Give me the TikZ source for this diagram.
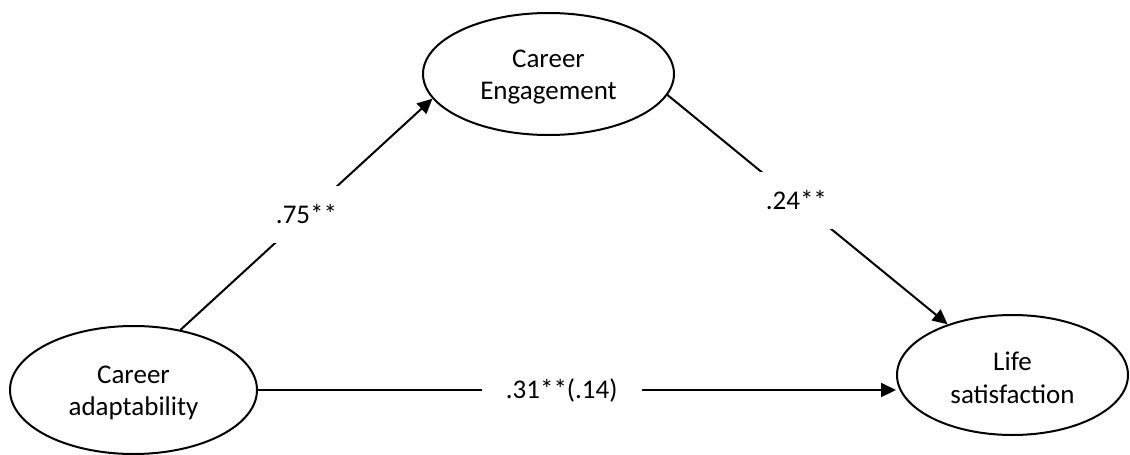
\documentclass[tikz,border=0pt]{standalone}
\usepackage{fontspec}
\setmainfont{Carlito}
\usetikzlibrary{arrows.meta,shapes.geometric}
\begin{document}
\begin{tikzpicture}[x=1pt,y=-1pt,
  txt/.style={align=center,inner sep=0pt,yshift=-3pt,font=\fontsize{27}{32.5}\selectfont},
  latent/.style={ellipse,draw,line width=2pt,inner sep=0pt},
  pathline/.style={line width=2pt,-{Triangle[length=15pt,width=14pt]}},
  coef/.style={fill=white,inner xsep=24pt,inner ysep=19pt,font=\fontsize{27}{32.5}\selectfont}]
\useasboundingbox (0,0) rectangle (1130,455);
\node[latent,minimum width=251pt,minimum height=122pt,
  label={[txt]center:Career\\Engagement}] (ce) at (548.5,74) {};
\node[latent,minimum width=247pt,minimum height=128pt,
  label={[txt]center:Career\\adaptability}] (ca) at (133.5,390) {};
\node[latent,minimum width=231pt,minimum height=120pt,
  label={[txt]center:Life\\satisfaction}] (ls) at (1012.5,375) {};
\draw[pathline] (ca.52) -- node[coef,pos=0.5]{.75**} (ce.192);
\draw[pathline] (ce.350) -- node[coef,pos=0.46]{.24**} (ls.142);
\draw[pathline] (ca.east) -- node[coef,pos=0.476]{.31**(.14)} (ca.east -| ls.west);
\end{tikzpicture}
\end{document}
